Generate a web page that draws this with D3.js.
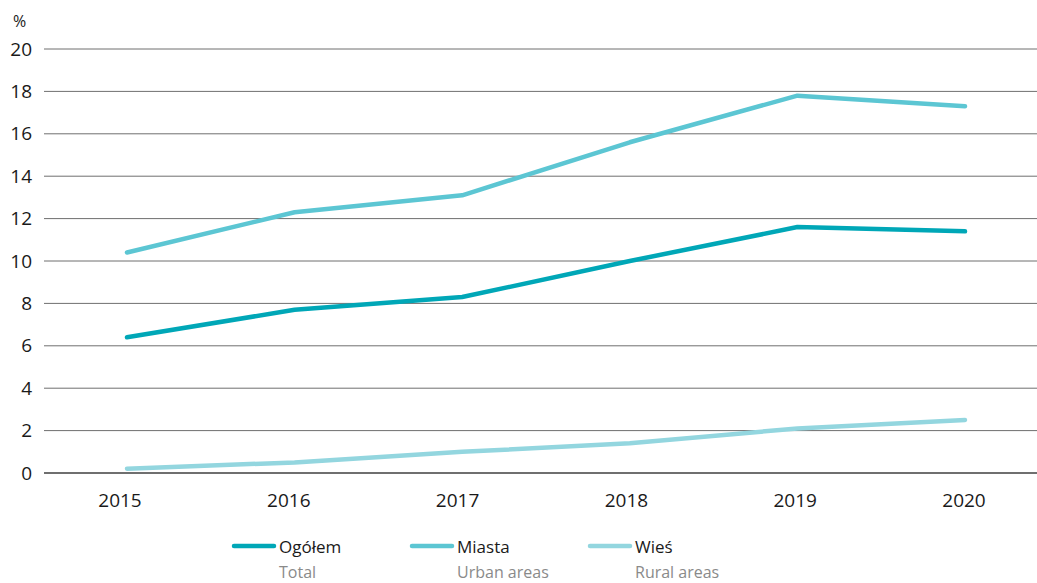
<!DOCTYPE html>
<html>
<head>
<meta charset="utf-8">
<script src="https://cdn.jsdelivr.net/npm/d3@7"></script>
<style>
  body { margin: 0; background: #fff; }
  text { font-family: "Open Sans", "Noto Sans", sans-serif; }
</style>
</head>
<body>
<div id="chart"></div>
<script>
// dane
var years = ["2015", "2016", "2017", "2018", "2019", "2020"]
var ogolem = [6.4, 7.7, 8.3, 10.0, 11.6, 11.4]
var miasta = [10.4, 12.3, 13.1, 15.6, 17.8, 17.3]
var wies = [0.2, 0.5, 1.0, 1.4, 2.1, 2.5]
var yTicks = [0, 2, 4, 6, 8, 10, 12, 14, 16, 18, 20]
var seriesNames = ["Ogółem", "Miasta", "Wieś"]
var seriesNamesEn = ["Total", "Urban areas", "Rural areas"]

var width = 1037
var height = 583
var colors = ["#00a7b7", "#5cc6d3", "#93d6df"]

var svg = d3.select("#chart")
  .append("svg")
  .attr("width", width)
  .attr("height", height)

// punkty linii
var x = d3.scalePoint()
  .domain(years)
  .range([127, 965])

// etykiety lat (lekko przesunięte jak w oryginale)
var xLab = d3.scalePoint()
  .domain(years)
  .range([120, 964])

var y = d3.scaleLinear()
  .domain([0, 20])
  .range([473, 49])

// siatka
svg.append("g")
  .selectAll("line")
  .data(yTicks)
  .enter()
  .append("line")
    .attr("x1", 44)
    .attr("x2", 1037)
    .attr("y1", function(d){ return y(d) })
    .attr("y2", function(d){ return y(d) })
    .attr("stroke", "#6f6f6f")
    .attr("stroke-width", function(d){ return d == 0 ? 2.2 : 1 })

// etykiety osi Y
svg.append("g")
  .selectAll("text")
  .data(yTicks)
  .enter()
  .append("text")
    .attr("x", 32)
    .attr("y", function(d){ return y(d) + 6.5 })
    .attr("text-anchor", "end")
    .style("font-size", "19px")
    .style("fill", "#1a1a1a")
    .text(function(d){ return d })

svg.append("text")
  .attr("x", 13)
  .attr("y", 27)
  .style("font-size", "16px")
  .style("fill", "#1a1a1a")
  .text("%")

// etykiety osi X
svg.append("g")
  .selectAll("text")
  .data(years)
  .enter()
  .append("text")
    .attr("x", function(d){ return xLab(d) })
    .attr("y", 507)
    .attr("text-anchor", "middle")
    .style("font-size", "19px")
    .style("fill", "#1a1a1a")
    .text(function(d){ return d })

// linie
var line = d3.line()
  .x(function(d, i){ return x(years[i]) })
  .y(function(d){ return y(d) })

var allSeries = [ogolem, miasta, wies]
svg.append("g")
  .selectAll("path")
  .data(allSeries)
  .enter()
  .append("path")
    .attr("d", line)
    .attr("fill", "none")
    .attr("stroke", function(d, i){ return colors[i] })
    .attr("stroke-width", 4.5)
    .attr("stroke-linecap", "round")
    .attr("stroke-linejoin", "round")

// legenda
var legendX = [232, 410, 588]
var leg = svg.append("g")
  .selectAll("g")
  .data(seriesNames)
  .enter()
  .append("g")
    .attr("transform", function(d, i){ return "translate(" + legendX[i] + ",0)" })

leg.append("line")
  .attr("x1", 2)
  .attr("x2", 42)
  .attr("y1", 546)
  .attr("y2", 546)
  .attr("stroke", function(d, i){ return colors[i] })
  .attr("stroke-width", 4.5)
  .attr("stroke-linecap", "round")

leg.append("text")
  .attr("x", 47)
  .attr("y", 553)
  .style("font-size", "17px")
  .style("fill", "#1a1a1a")
  .text(function(d){ return d })

leg.append("text")
  .attr("x", 47)
  .attr("y", 578)
  .style("font-size", "16px")
  .style("fill", "#8a8a8a")
  .text(function(d, i){ return seriesNamesEn[i] })
</script>
</body>
</html>
